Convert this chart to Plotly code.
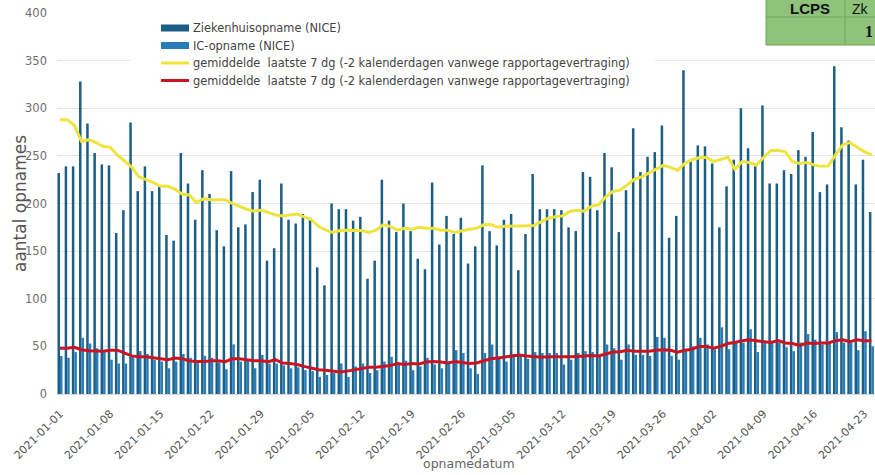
import plotly.graph_objects as go
import pandas as pd

dates = pd.date_range("2021-01-01", periods=114, freq="D")

ziekenhuis = [232, 239, 239, 328, 284, 253, 241, 240, 169, 193, 285, 213, 239, 213, 218, 167, 161, 253, 221, 183,
              235, 210, 172, 155, 234, 175, 178, 212, 225, 140, 153, 221, 183, 179, 189, 185, 133, 114, 200, 194,
              194, 182, 186, 121, 140, 225, 182, 170, 200, 171, 142, 131, 222, 157, 187, 168, 185, 137, 155, 240,
              171, 156, 183, 189, 130, 168, 231, 194, 194, 194, 193, 175, 171, 233, 228, 193, 253, 238, 170, 214,
              279, 233, 249, 254, 282, 164, 187, 340, 244, 261, 260, 242, 175, 218, 246, 300, 258, 239, 303, 221,
              221, 235, 231, 256, 249, 275, 212, 220, 344, 280, 266, 220, 246, 191]

ic = [40, 38, 44, 59, 53, 48, 44, 36, 32, 32, 39, 45, 42, 36, 34, 27, 34, 42, 38, 34,
      40, 38, 33, 26, 52, 34, 35, 27, 41, 32, 32, 30, 27, 28, 25, 24, 18, 20, 22, 32,
      18, 29, 32, 22, 25, 34, 39, 32, 35, 25, 29, 38, 31, 27, 34, 46, 43, 27, 21, 43,
      52, 38, 34, 42, 41, 37, 44, 43, 43, 43, 31, 36, 43, 45, 44, 41, 52, 48, 36, 52,
      41, 41, 40, 60, 59, 40, 36, 45, 50, 59, 52, 47, 70, 47, 55, 54, 68, 44, 55, 54,
      54, 49, 45, 54, 63, 57, 52, 54, 65, 54, 54, 46, 66, 50]

gem_zh = [288, 288, 282, 265, 267, 264, 260, 259, 251, 244, 238, 228, 225, 222, 218, 218, 215, 210, 209, 201,
          205, 204, 204, 204, 200, 197, 194, 192, 193, 190.6, 188, 187, 188, 189, 186, 183, 176, 172, 169.6, 171.7,
          172, 171.7, 171.7, 169.6, 172, 177.6, 176, 172, 174, 173, 175, 174, 174, 172, 172, 169.6, 171.7, 173, 174, 177.6,
          178, 175, 176, 176, 176.6, 176.6, 177, 181, 184.6, 186, 187, 191.6, 193, 192, 197, 198.6, 207, 212.6, 214, 219.6,
          225.5, 228, 232, 236, 240, 238, 235, 242, 246, 248, 248.6, 244, 246, 248.6, 236, 244, 243, 240.5, 248.6, 255.6,
          255.6, 254.5, 244, 242, 243, 240.5, 239, 239.5, 251, 261.5, 264, 259, 254.5, 251]

gem_ic = [48, 48, 49, 46.5, 45.5, 45, 45, 46, 46, 43, 40, 39, 39, 38, 37, 36, 37.8, 37, 35, 34,
          34, 35, 35, 34, 37, 37, 36, 35, 35, 34, 36, 32.5, 32, 31, 29, 27, 25.5, 25, 24, 23,
          24, 25.5, 27, 28, 28, 29, 30, 32, 31, 32, 31.5, 33.5, 34, 33.5, 32.5, 34, 33, 32, 32.5, 35,
          37, 37.8, 39, 40, 41, 40, 39.5, 38.5, 39, 39, 38.5, 39, 39.5, 40, 40.5, 40, 42, 44, 44.4, 46,
          45, 44.8, 44.8, 46, 46.5, 46, 44, 46, 47, 50, 50, 48, 50, 53, 54, 56, 57, 56, 55, 54,
          56, 53.5, 53, 51, 53.5, 53, 53.5, 53.5, 56, 57, 55, 57, 56, 56]

tick_vals = pd.date_range("2021-01-01", "2021-04-23", freq="7D")
tick_text = [d.strftime("%Y-%m-%d") for d in tick_vals]

legend_names = ["Ziekenhuisopname (NICE)", "IC-opname (NICE)",
                "gemiddelde  laatste 7 dg (-2 kalenderdagen vanwege rapportagevertraging)",
                "gemiddelde  laatste 7 dg (-2 kalenderdagen vanwege rapportagevertraging)"]

C_ZH = "#1b5f87"
C_IC = "#2a7cb8"
C_YEL = "#efe43f"
C_RED = "#cc1420"
FONT = "DejaVu Sans"

fig = go.Figure()
fig.add_trace(go.Bar(x=dates, y=ziekenhuis, marker_color=C_ZH, marker_line_width=0,
                     name=legend_names[0], showlegend=False))
fig.add_trace(go.Bar(x=dates, y=ic, marker_color=C_IC, marker_line_width=0,
                     name=legend_names[1], showlegend=False))
fig.add_trace(go.Scatter(x=dates, y=gem_zh, mode="lines", line=dict(color=C_YEL, width=3),
                         name=legend_names[2], showlegend=False))
fig.add_trace(go.Scatter(x=dates, y=gem_ic, mode="lines", line=dict(color=C_RED, width=3),
                         name=legend_names[3], showlegend=False))

L, R, T, B = 57, 0, 13, 81
W, H = 875, 475
pw = W - L - R
ph = H - T - B

def px(xpix):
    return (xpix - L) / pw

def py(ypix):
    return (H - B - ypix) / ph

shapes = []
annotations = []

# manual legend (white box, symbols, texts)
shapes.append(dict(type="rect", xref="paper", yref="paper", x0=px(130), x1=px(655), y0=py(92), y1=py(17),
                   fillcolor="white", line=dict(width=0), layer="above"))
leg_rows = [28, 45.5, 63, 80.5]
leg_colors = [C_ZH, C_IC, C_YEL, C_RED]
leg_widths = [7, 7, 3, 3]
for name, yrow, col, lw in zip(legend_names, leg_rows, leg_colors, leg_widths):
    shapes.append(dict(type="line", xref="paper", yref="paper", x0=px(161), x1=px(189),
                       y0=py(yrow), y1=py(yrow), line=dict(color=col, width=lw), layer="above"))
    annotations.append(dict(text=name, x=px(191), y=py(yrow), xref="paper", yref="paper",
                            xanchor="left", yanchor="middle", showarrow=False,
                            font=dict(size=11.4, color="#444444", family=FONT)))

# axis titles
annotations.append(dict(text="aantal opnames", x=px(20), y=py(204), xref="paper", yref="paper",
                        xanchor="center", yanchor="middle", showarrow=False, textangle=-90,
                        font=dict(size=17, color="#555555", family=FONT)))
annotations.append(dict(text="opnamedatum", x=px(469), y=py(463), xref="paper", yref="paper",
                        xanchor="center", yanchor="middle", showarrow=False,
                        font=dict(size=12.5, color="#666666", family=FONT)))

# partial LCPS table in top-right corner
GREEN_LINE = "#6fa85a"
shapes.append(dict(type="rect", xref="paper", yref="paper", x0=px(766), x1=px(885), y0=py(45), y1=py(-10),
                   fillcolor="#8fc27b", line=dict(color=GREEN_LINE, width=1), layer="above"))
shapes.append(dict(type="line", xref="paper", yref="paper", x0=px(766), x1=px(885), y0=py(17), y1=py(17),
                   line=dict(color=GREEN_LINE, width=1), layer="above"))
shapes.append(dict(type="line", xref="paper", yref="paper", x0=px(845), x1=px(845), y0=py(45), y1=py(-10),
                   line=dict(color=GREEN_LINE, width=1), layer="above"))
annotations.append(dict(text="<b>LCPS</b>", x=px(810), y=py(9), xref="paper", yref="paper",
                        xanchor="center", yanchor="middle", showarrow=False, borderpad=0,
                        font=dict(size=15, color="#111111", family="Liberation Sans")))
annotations.append(dict(text="Zk", x=px(851), y=py(9), xref="paper", yref="paper",
                        xanchor="left", yanchor="middle", showarrow=False, borderpad=0,
                        font=dict(size=14, color="#111111", family="Liberation Sans")))
annotations.append(dict(text="<b>1</b>", x=px(864), y=py(31), xref="paper", yref="paper",
                        xanchor="left", yanchor="middle", showarrow=False, borderpad=0,
                        font=dict(size=16, color="#111111", family="Liberation Serif")))

fig.update_layout(
    width=W, height=H, autosize=False,
    margin=dict(l=L, r=R, t=T, b=B, pad=0),
    paper_bgcolor="white", plot_bgcolor="white",
    barmode="group", bargap=0.3, bargroupgap=0.0,
    font=dict(family=FONT, color="#555555", size=11),
    showlegend=False,
    xaxis=dict(type="date",
               range=[dates[0] - pd.Timedelta(hours=10), dates[0] + pd.Timedelta(days=113.5)],
               tickvals=tick_vals, ticktext=tick_text, tickangle=-45,
               tickfont=dict(size=11, color="#555555", family=FONT),
               ticklabelstandoff=8,
               showgrid=False, showline=True, linecolor="#d9d9d9", linewidth=1,
               ticks="", zeroline=False),
    yaxis=dict(range=[0, 400], dtick=50, showgrid=True, gridcolor="#e3e3e3", gridwidth=1,
               tickfont=dict(size=11.5, color="#6e6e6e", family=FONT),
               ticklabelstandoff=9,
               zeroline=False, showline=False, ticks=""),
    shapes=shapes,
    annotations=annotations,
)

fig.write_html("out.html", config={"displayModeBar": False},
               post_script="document.body.style.margin='0';document.body.style.overflow='hidden';")
